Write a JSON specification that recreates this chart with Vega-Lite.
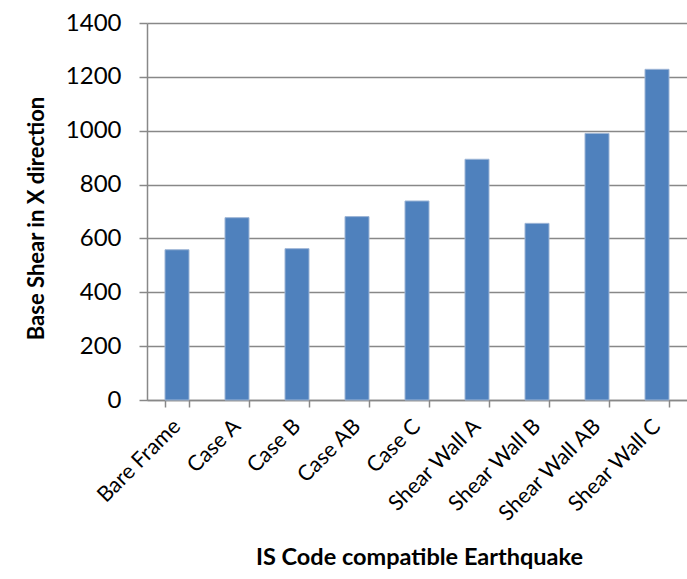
{
  "$schema": "https://vega.github.io/schema/vega-lite/v6.json",
  "autosize": "none",
  "width": 540,
  "height": 377,
  "padding": {"left": 147, "top": 23, "right": 0, "bottom": 179},
  "background": "white",
  "config": {
    "view": {"stroke": null},
    "font": "Lato"
  },
  "data": {
    "values": [
      {"case": "Bare Frame", "shear": 558},
      {"case": "Case A", "shear": 677},
      {"case": "Case B", "shear": 562},
      {"case": "Case AB", "shear": 681},
      {"case": "Case C", "shear": 739},
      {"case": "Shear Wall A", "shear": 894},
      {"case": "Shear Wall B", "shear": 656},
      {"case": "Shear Wall AB", "shear": 990},
      {"case": "Shear Wall C", "shear": 1228}
    ]
  },
  "mark": {"type": "bar", "color": "#4F81BD", "stroke": "#9DB5D6", "strokeWidth": 1},
  "encoding": {
    "x": {
      "field": "case",
      "type": "nominal",
      "sort": null,
      "scale": {"paddingInner": 0.6, "paddingOuter": 0.3},
      "axis": {
        "title": "IS Code compatible Earthquake",
        "titleFont": "Lato",
        "titleFontSize": 23.5,
        "titleFontWeight": "bold",
        "titleColor": "black",
        "titleX": 272,
        "titleY": 157,
        "titleBaseline": "middle",
        "labelAngle": -45,
        "labelAlign": "right",
        "labelBaseline": "middle",
        "labelFontSize": 21.5,
        "labelColor": "black",
        "labelPadding": 16,
        "tickBand": "extent",
        "tickSize": 7,
        "tickColor": "#888888",
        "tickWidth": 1.5,
        "domainColor": "#888888",
        "domainWidth": 1.5
      }
    },
    "y": {
      "field": "shear",
      "type": "quantitative",
      "scale": {"domain": [0, 1400]},
      "axis": {
        "title": "Base Shear in X direction",
        "titleFont": "Lato",
        "titleFontSize": 22,
        "titleFontWeight": "bold",
        "titleColor": "black",
        "titleX": -111,
        "titleY": 195,
        "titleBaseline": "middle",
        "format": "d",
        "values": [0, 200, 400, 600, 800, 1000, 1200, 1400],
        "labelFontSize": 24,
        "labelColor": "black",
        "labelPadding": 18,
        "tickSize": 8,
        "tickColor": "#888888",
        "tickWidth": 1.5,
        "domainColor": "#888888",
        "domainWidth": 1.5,
        "grid": true,
        "gridColor": "#888888",
        "gridWidth": 1.5
      }
    }
  }
}
